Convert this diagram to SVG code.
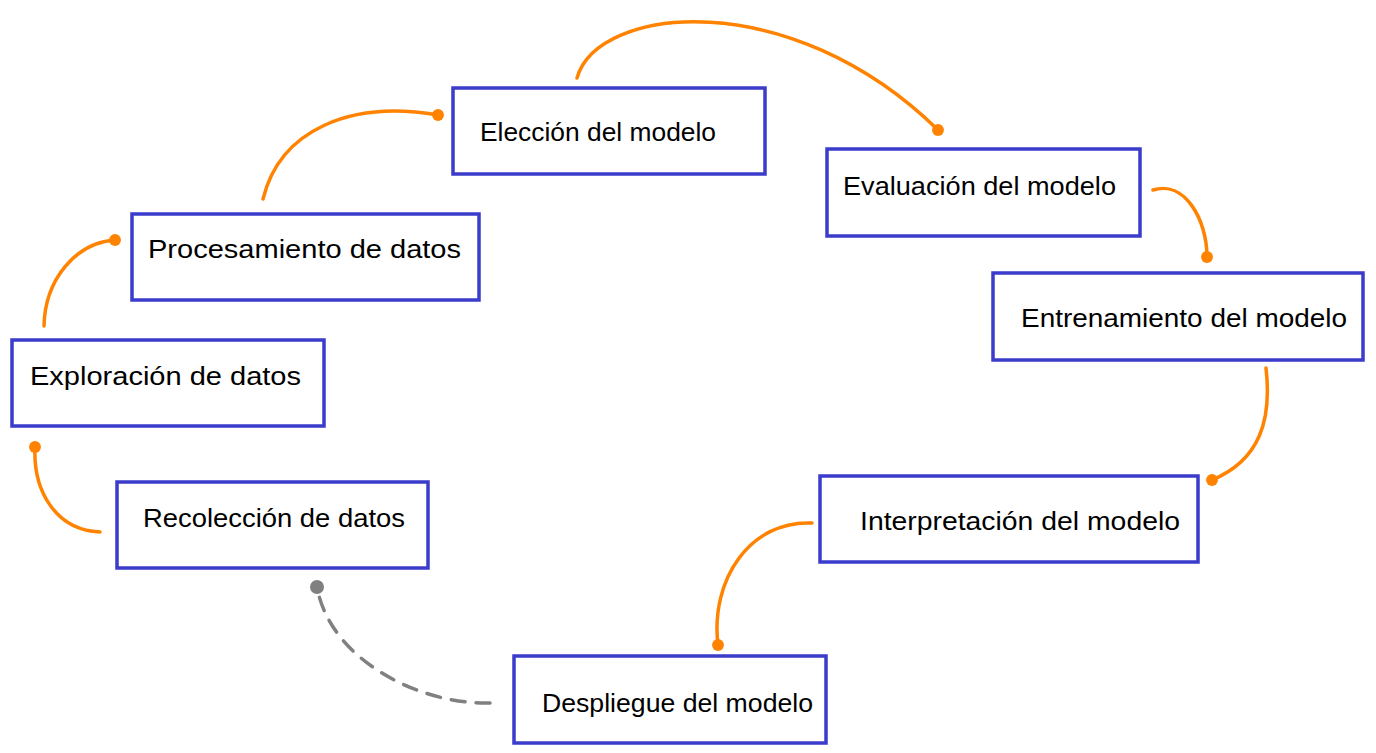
<svg xmlns="http://www.w3.org/2000/svg" width="1376" height="753" viewBox="0 0 1376 753">
<style>
.box{fill:#fff;stroke:#3b3bcc;stroke-width:3.5}
.lbl{font-family:"Liberation Sans",Arial,sans-serif;font-size:25px;fill:#000}
.c{fill:none;stroke:#ff8300;stroke-width:3.5;stroke-linecap:round}
.d{fill:none;stroke:#808080;stroke-width:3.5;stroke-dasharray:14 11;stroke-linecap:round}
</style>
<defs>
<marker id="dot" viewBox="0 0 10 10" refX="5" refY="5" markerWidth="3.4" markerHeight="3.4" markerUnits="strokeWidth"><circle cx="5" cy="5" r="5" fill="#ff8300"/></marker>
<marker id="dotg" viewBox="0 0 10 10" refX="5" refY="5" markerWidth="4" markerHeight="4" markerUnits="strokeWidth"><circle cx="5" cy="5" r="5" fill="#808080"/></marker>
</defs>
<rect width="1376" height="753" fill="#fff"/>
<g id="connectors">
<path class="c" marker-end="url(#dot)" d="M100,532 C55,530 33,490 35,447"/>
<path class="c" marker-end="url(#dot)" d="M44,326 C45,280 75,243 115,240"/>
<path class="c" marker-end="url(#dot)" d="M263,199 C280,130 350,100 438,115"/>
<path class="c" marker-end="url(#dot)" d="M577,78 C598,5 790,-15 938,130"/>
<path class="c" marker-end="url(#dot)" d="M1153,190 C1185,180 1207,220 1207,257"/>
<path class="c" marker-end="url(#dot)" d="M1266,368 C1272,420 1260,460 1212,480"/>
<path class="c" marker-end="url(#dot)" d="M812,523 C750,520 710,580 718,645"/>
<path class="d" marker-end="url(#dotg)" d="M490,703 C420,705 330,660 317,587"/>
</g>
<g id="n1"><rect class="box" x="453" y="88" width="312" height="86"/><text class="lbl" x="480" y="141" textLength="236" lengthAdjust="spacingAndGlyphs">Elección del modelo</text></g>
<g id="n2"><rect class="box" x="827" y="149" width="313" height="87"/><text class="lbl" x="843" y="195" textLength="273" lengthAdjust="spacingAndGlyphs">Evaluación del modelo</text></g>
<g id="n3"><rect class="box" x="993" y="273" width="370" height="87"/><text class="lbl" x="1021" y="327" textLength="326" lengthAdjust="spacingAndGlyphs">Entrenamiento del modelo</text></g>
<g id="n4"><rect class="box" x="820" y="476" width="378" height="86"/><text class="lbl" x="860" y="530" textLength="320" lengthAdjust="spacingAndGlyphs">Interpretación del modelo</text></g>
<g id="n5"><rect class="box" x="514" y="656" width="312" height="87"/><text class="lbl" x="542" y="712" textLength="271" lengthAdjust="spacingAndGlyphs">Despliegue del modelo</text></g>
<g id="n6"><rect class="box" x="117" y="482" width="311" height="86"/><text class="lbl" x="143" y="527" textLength="262" lengthAdjust="spacingAndGlyphs">Recolección de datos</text></g>
<g id="n7"><rect class="box" x="12" y="340" width="312" height="86"/><text class="lbl" x="30" y="385" textLength="271" lengthAdjust="spacingAndGlyphs">Exploración de datos</text></g>
<g id="n8"><rect class="box" x="132" y="214" width="347" height="86"/><text class="lbl" x="148" y="258" textLength="313" lengthAdjust="spacingAndGlyphs">Procesamiento de datos</text></g>
</svg>
